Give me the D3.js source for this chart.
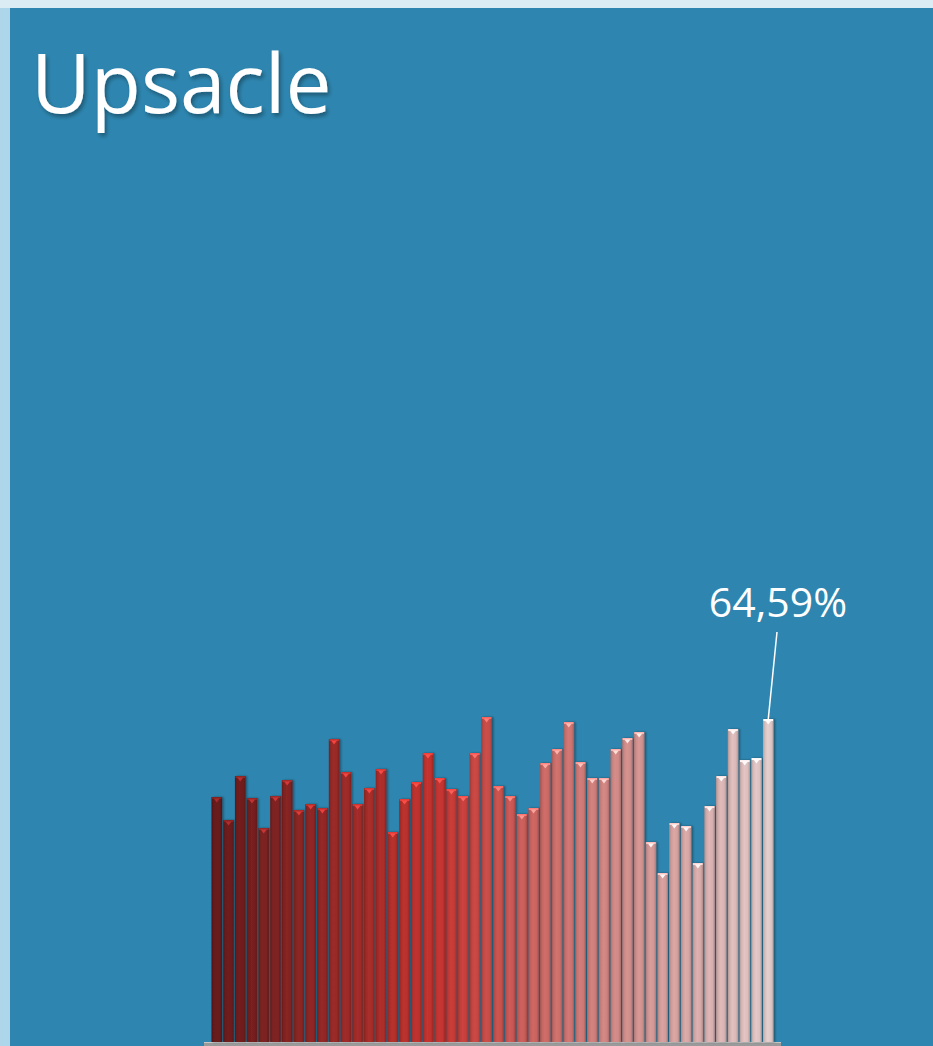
<!DOCTYPE html>
<html>
<head>
<meta charset="utf-8">
<script src="https://cdn.jsdelivr.net/npm/d3@7"></script>
<style>
  html, body { margin: 0; padding: 0; background: #d9ebf5; }
  svg { display: block; }
</style>
</head>
<body>
<svg id="chart" width="933" height="1046"></svg>
<script>
// ---- data ----
const title = "Upsacle";
const categories = d3.range(1, 49).map(i => "P" + i);
const values = [
  48.99, 44.39, 53.19, 48.79, 42.79, 49.19, 52.39, 46.39, 47.59, 46.79,
  60.59, 53.99, 47.59, 50.79, 54.59, 41.99, 48.59, 51.99, 57.79, 52.79,
  50.59, 49.19, 57.79, 64.99, 51.19, 49.19, 45.59, 46.79, 55.79, 58.59,
  63.99, 55.99, 52.79, 52.79, 58.59, 60.79, 61.99, 39.99, 33.79, 43.79,
  43.19, 35.79, 47.19, 53.19, 62.59, 56.39, 56.79, 64.59
];
const labelText = "64,59%";
const colorStops = ["#661b1b", "#922826", "#c2332f", "#c96a66", "#d19a98", "#ddc6c6"];

// ---- drawing ----
const svg = d3.select("#chart");
const W = 933, H = 1046;

// outer light frame
svg.append("rect").attr("x", 0).attr("y", 0).attr("width", W).attr("height", H).attr("fill", "#dcecf5");
svg.append("rect").attr("x", 0).attr("y", 8).attr("width", 10).attr("height", H - 8).attr("fill", "#aed6ea");
svg.append("rect").attr("x", 10).attr("y", 8).attr("width", W - 10).attr("height", H - 8).attr("fill", "#2e86b0");

const defs = svg.append("defs");
const shadow = defs.append("filter").attr("id", "tshadow").attr("x", "-10%").attr("y", "-10%").attr("width", "130%").attr("height", "130%");
shadow.append("feDropShadow").attr("dx", 2).attr("dy", 3).attr("stdDeviation", 2).attr("flood-color", "#000").attr("flood-opacity", 0.35);

const barShadow = defs.append("filter").attr("id", "bshadow").attr("x", "-30%").attr("y", "-5%").attr("width", "180%").attr("height", "110%");
barShadow.append("feDropShadow").attr("dx", 1.5).attr("dy", 0).attr("stdDeviation", 1.2).attr("flood-color", "#000").attr("flood-opacity", 0.4);

// title
svg.append("text")
  .attr("x", 31).attr("y", 113)
  .attr("font-family", "'Open Sans', sans-serif")
  .attr("font-size", 82)
  .attr("fill", "#ffffff")
  .attr("filter", "url(#tshadow)")
  .text(title);

// scales
const x = d3.scaleBand().domain(categories).range([211, 774]).paddingInner(0.1).paddingOuter(0.04);
const y = d3.scaleLinear().domain([0, 100]).range([1042, 542]);

const colorScale = d3.scaleLinear()
  .domain(colorStops.map((c, i) => i * (categories.length - 1) / (colorStops.length - 1)))
  .range(colorStops)
  .interpolate(d3.interpolateRgb);

// per-bar cylinder gradients
categories.forEach((c, i) => {
  const base = d3.color(colorScale(i));
  const g = defs.append("linearGradient").attr("id", "bg" + i).attr("x1", 0).attr("x2", 1).attr("y1", 0).attr("y2", 0);
  g.append("stop").attr("offset", "0%").attr("stop-color", base.darker(0.6));
  g.append("stop").attr("offset", "20%").attr("stop-color", base.darker(0.1));
  g.append("stop").attr("offset", "45%").attr("stop-color", base.brighter(0.12));
  g.append("stop").attr("offset", "78%").attr("stop-color", base);
  g.append("stop").attr("offset", "100%").attr("stop-color", base.darker(0.6));
});

// baseline
svg.append("rect").attr("x", 204).attr("y", 1042).attr("width", 577).attr("height", 4).attr("fill", "#9a9a9a");
svg.append("rect").attr("x", 204).attr("y", 1042).attr("width", 577).attr("height", 1).attr("fill", "#c8c8c8");

const bars = svg.append("g").selectAll("g").data(values).join("g");

bars.append("rect")
  .attr("x", (d, i) => x(categories[i]))
  .attr("y", d => y(d))
  .attr("width", x.bandwidth())
  .attr("height", d => y(0) - y(d))
  .attr("fill", (d, i) => `url(#bg${i})`)
  .attr("filter", "url(#bshadow)");

// top cap highlight
bars.append("rect")
  .attr("x", (d, i) => x(categories[i]) + 0.5)
  .attr("y", d => y(d))
  .attr("width", x.bandwidth() - 1)
  .attr("height", 2)
  .attr("fill", (d, i) => d3.color(colorScale(i)).brighter(0.7));

// small triangle marker at top
bars.append("path")
  .attr("d", (d, i) => {
    const cx = x(categories[i]) + x.bandwidth() / 2;
    const ty = y(d) + 1.5;
    return `M${cx - 3},${ty} L${cx + 3},${ty} L${cx},${ty + 4} Z`;
  })
  .attr("fill", (d, i) => d3.color(colorScale(i)).brighter(1.5))
  .attr("opacity", 0.9);

// data label for last bar
const lastI = values.length - 1;
const lx = x(categories[lastI]) + x.bandwidth() / 2;
svg.append("line")
  .attr("x1", 777).attr("y1", 632)
  .attr("x2", lx).attr("y2", y(values[lastI]))
  .attr("stroke", "#ffffff").attr("stroke-width", 1.5);
svg.append("text")
  .attr("x", 778).attr("y", 617)
  .attr("text-anchor", "middle")
  .attr("font-family", "'Open Sans', sans-serif")
  .attr("font-size", 41)
  .attr("fill", "#ffffff")
  .text(labelText);
</script>
</body>
</html>
